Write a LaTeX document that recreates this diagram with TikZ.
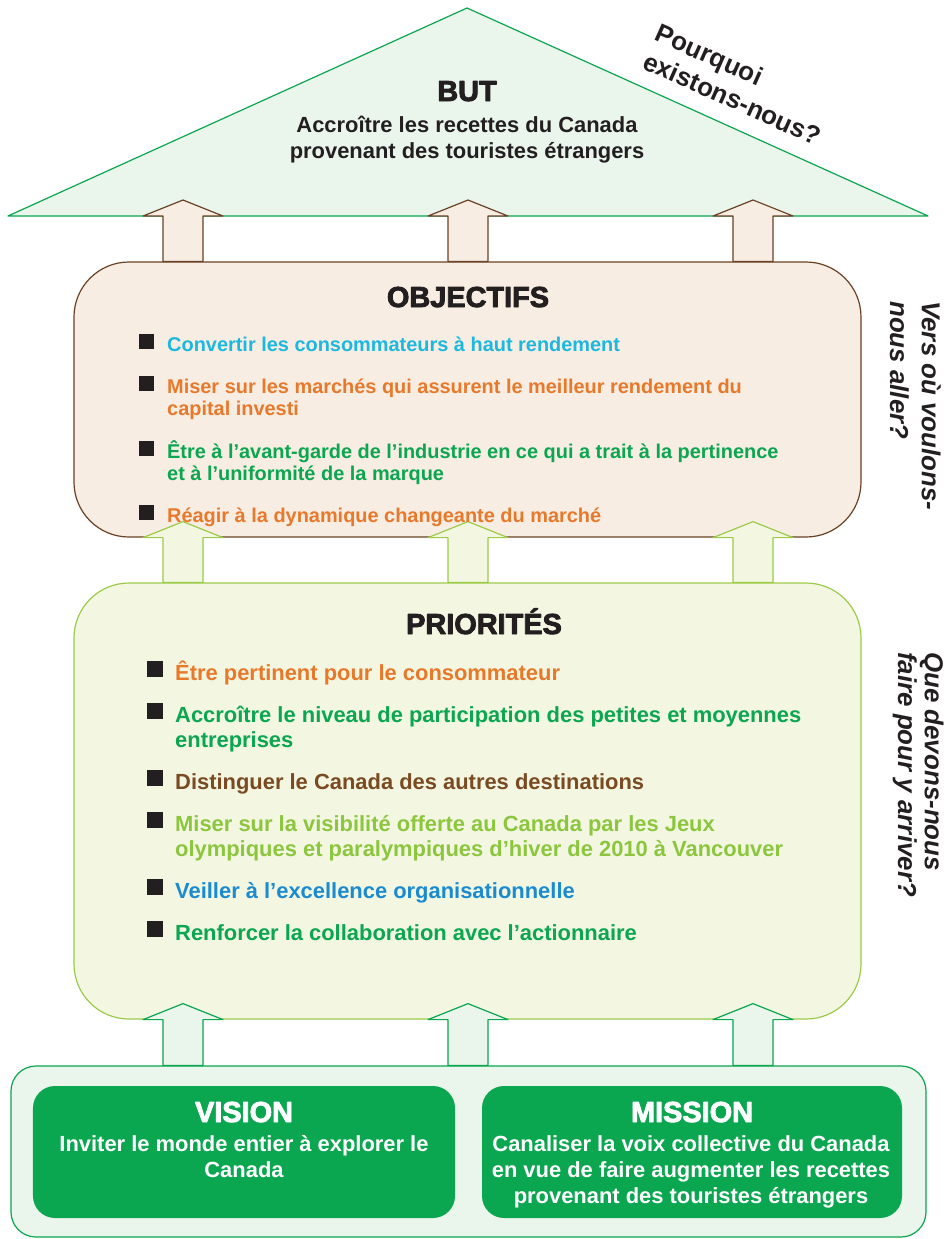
\documentclass[tikz,border=0pt]{standalone}
\usepackage{fontspec}
\setmainfont{Liberation Sans}
\newfontfamily\heavyfont[FakeBold=3]{Liberation Sans}
\usetikzlibrary{calc,positioning}
\definecolor{ink}{RGB}{35,31,32}
\definecolor{leaf}{RGB}{11,166,80}
\definecolor{mint}{RGB}{234,245,236}
\definecolor{bark}{RGB}{107,66,38}
\definecolor{cream}{RGB}{247,237,227}
\definecolor{lime}{RGB}{156,203,74}
\definecolor{limepale}{RGB}{243,247,225}
\definecolor{txtcyan}{RGB}{27,184,224}
\definecolor{txtorange}{RGB}{232,121,43}
\definecolor{txtgreen}{RGB}{11,166,80}
\definecolor{txtbrown}{RGB}{122,74,34}
\definecolor{txtlime}{RGB}{140,198,62}
\definecolor{txtblue}{RGB}{26,139,208}
\tikzset{
  title/.style={font=\heavyfont\bfseries\fontsize{29}{30}\selectfont, text=ink, inner sep=0pt, anchor=base},
  lead/.style={font=\bfseries\fontsize{22}{26}\selectfont, text=ink, inner sep=0pt, align=center, anchor=base},
  ask/.style={font=\bfseries\fontsize{26}{31}\selectfont, text=ink, inner sep=0pt, align=left, anchor=base west},
  objitem/.style={font=\bfseries\fontsize{20}{22.5}\selectfont, inner sep=0pt, align=left, anchor=base west},
  priitem/.style={font=\bfseries\fontsize{22}{25}\selectfont, inner sep=0pt, align=left, anchor=base west},
  sq/.style={fill=ink, minimum size=15bp, inner sep=0pt, anchor=south east},
  bigbox/.style={line width=1.2bp, minimum width=787bp, rounded corners=55bp},
  greenbox/.style={fill=leaf, minimum height=132bp, rounded corners=22bp},
  toparrow/.style={draw=bark, fill=cream, line width=1.2bp},
  midarrow/.style={draw=lime, fill=limepale, line width=1.2bp},
  lowarrow/.style={draw=leaf, fill=mint, line width=1.2bp}
}
% block arrow: style, column, lower node, point on the head base
\newcommand{\liftarrow}[4]{%
  \draw[#1] let \p1=(#2 |- #3.north), \p2=(#2 |- #4) in
    (\x1-20bp,\y1) -- (\x1-20bp,\y2) -- (\x1-40bp,\y2) -- (\x1,\y2+16bp)
    -- (\x1+40bp,\y2) -- (\x1+20bp,\y2) -- (\x1+20bp,\y1) -- cycle;}
\begin{document}
\begin{tikzpicture}[x=1bp, y=-1bp, line join=round]
\useasboundingbox (0,0) rectangle (948,1239);
% roof
\draw[draw=leaf, fill=mint, line width=1.2bp] (8,216) coordinate (roofl) -- (467,8) coordinate (apex) -- (928,216) coordinate (roofr) -- cycle;
\coordinate (roofbase) at (467,216);
% boxes
\node[bigbox, draw=bark, fill=cream, minimum height=275bp] (obj) at (467.5,399.5) {};
\node[bigbox, draw=lime, fill=limepale, minimum height=436bp] (pri) at (467.5,801) {};
\node[draw=leaf, fill=mint, line width=1.2bp, minimum width=915bp, minimum height=171bp, rounded corners=25bp] (found) at (468.5,1151.5) {};
\node[greenbox, minimum width=422bp] (vision) at (244,1152) {};
\node[greenbox, minimum width=420bp] (mission) at (692,1152) {};
% arrows
\coordinate (c1) at (183,0);
\coordinate (c2) at (468,0);
\coordinate (c3) at (753,0);
\foreach \c in {c1,c2,c3} {
  \liftarrow{toparrow}{\c}{obj}{roofbase}
  \liftarrow{midarrow}{\c}{pri}{obj.south}
  \liftarrow{lowarrow}{\c}{found}{pri.south}
}
% texts (base of a multi-line node = its last line)
\node[title] (buttitle) at (467,101) {BUT};
\node[lead] (buttext) at (467,158) {Accroître les recettes du Canada\\provenant des touristes étrangers};
\node[ask, rotate=-24] (why) at (641,68) {Pourquoi\\existons-nous?};
\node[ask, font=\bfseries\itshape\fontsize{26}{32}\selectfont, rotate=-90] (where) at (890,301) {Vers où voulons-\\nous aller?};
\node[ask, font=\bfseries\itshape\fontsize{26}{27}\selectfont, rotate=-90] (how) at (898,652) {Que devons-nous\\faire pour y arriver?};
\node[title] (objtitle) at (468,307) {OBJECTIFS};
\foreach \n/\y/\k/\col/\txt in {
  o1/351/0/txtcyan/{Convertir les consommateurs à haut rendement},
  o2/393/1/txtorange/{Miser sur les marchés qui assurent le meilleur rendement du\\capital investi},
  o3/458/1/txtgreen/{Être à l’avant-garde de l’industrie en ce qui a trait à la pertinence\\et à l’uniformité de la marque},
  o4/522/0/txtorange/{Réagir à la dynamique changeante du marché}} {
  \node[objitem, text=\col] (\n) at (167,\y+\k*22.5) {\txt};
  \node[sq] at ([xshift=-13bp, yshift=2bp+\k*22.5bp]\n.base west) {};
}
\node[title] (prititle) at (484,634) {PRIORITÉS};
\foreach \n/\y/\k/\col/\txt in {
  p1/680/0/txtorange/{Être pertinent pour le consommateur},
  p2/722/1/txtgreen/{Accroître le niveau de participation des petites et moyennes\\entreprises},
  p3/789/0/txtbrown/{Distinguer le Canada des autres destinations},
  p4/831/1/txtlime/{Miser sur la visibilité offerte au Canada par les Jeux\\olympiques et paralympiques d’hiver de 2010 à Vancouver},
  p5/898/0/txtblue/{Veiller à l’excellence organisationnelle},
  p6/940/0/txtgreen/{Renforcer la collaboration avec l’actionnaire}} {
  \node[priitem, text=\col] (\n) at (175,\y+\k*25) {\txt};
  \node[sq, minimum size=16bp] at ([xshift=-12bp, yshift=3bp+\k*25bp]\n.base west) {};
}
\node[title, text=white] (vistitle) at (244,1122) {VISION};
\node[lead, text=white] (vistext) at (244,1177) {Inviter le monde entier à explorer le\\Canada};
\node[title, text=white] (mistitle) at (692,1122) {MISSION};
\node[lead, text=white] (mistext) at (691,1203) {Canaliser la voix collective du Canada\\en vue de faire augmenter les recettes\\provenant des touristes étrangers};
\end{tikzpicture}
\end{document}
